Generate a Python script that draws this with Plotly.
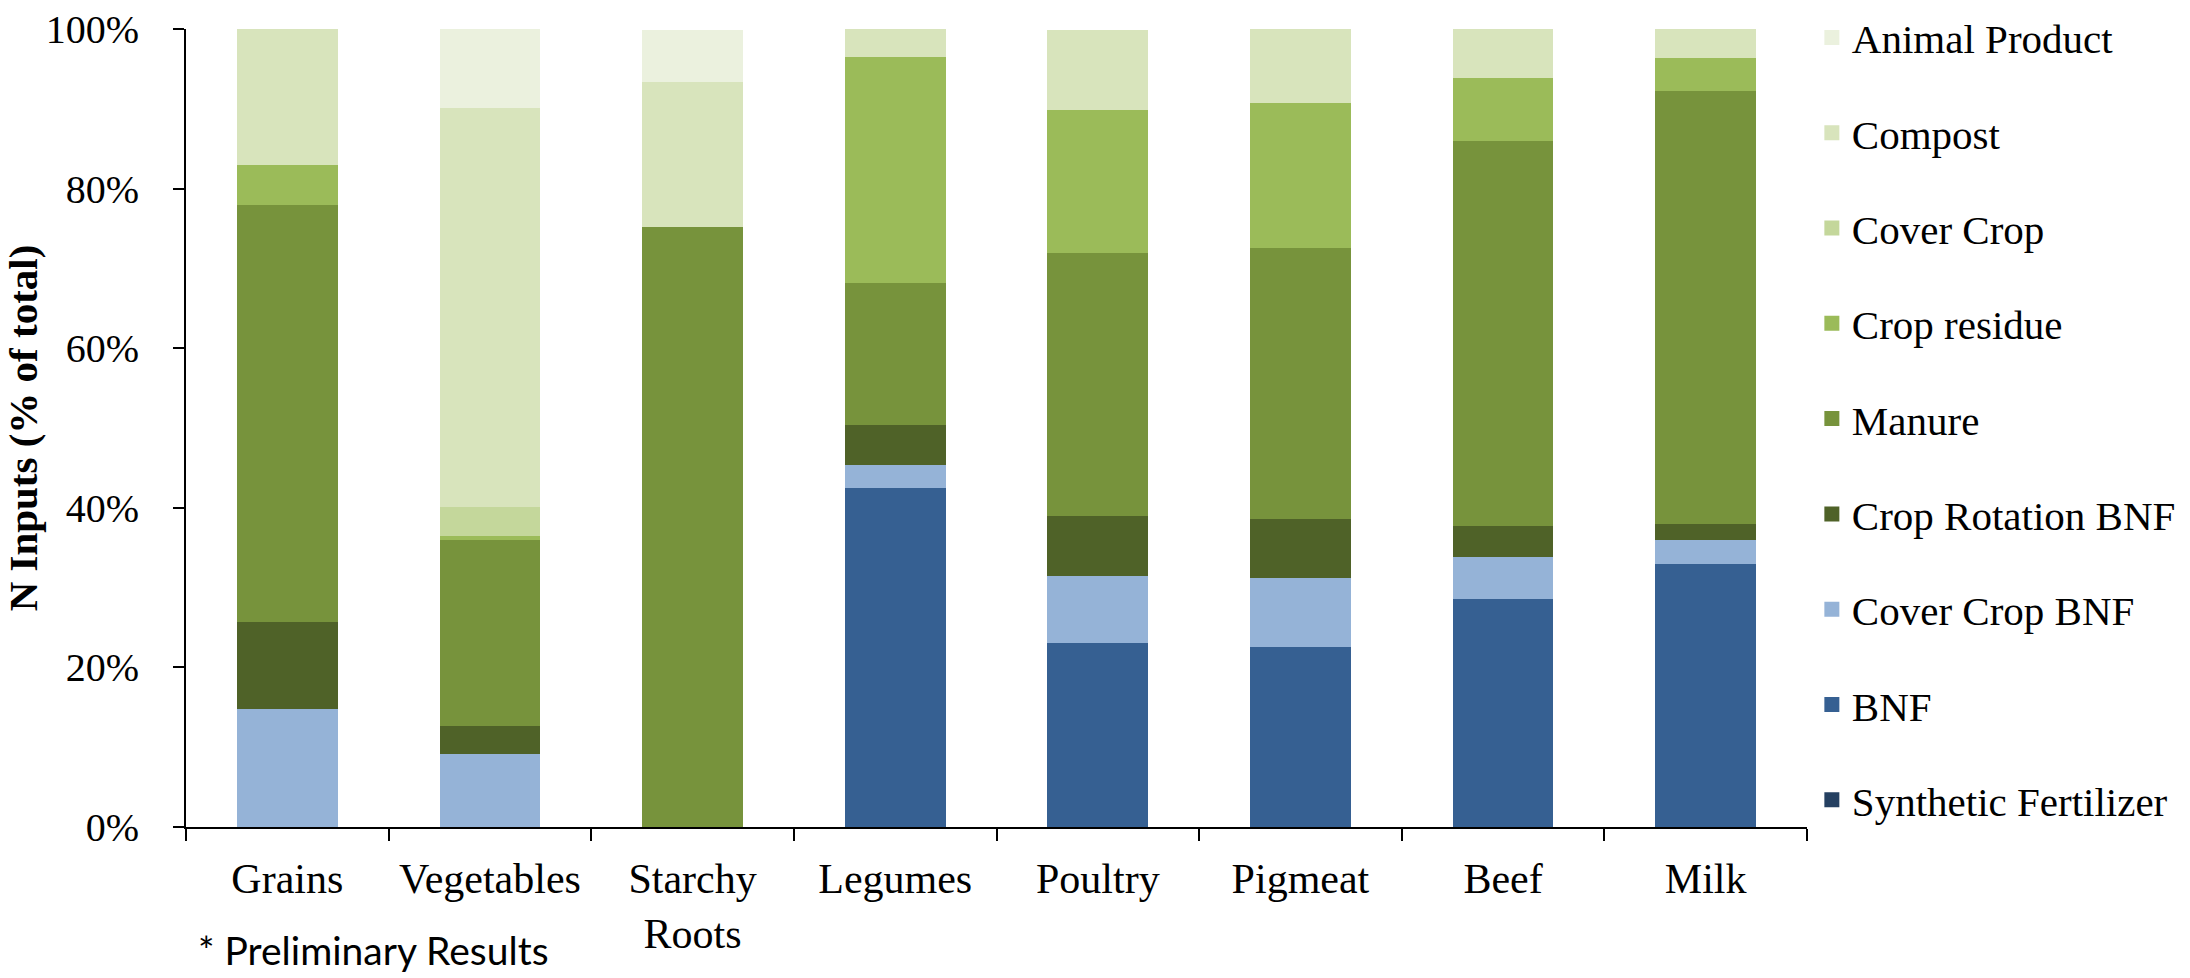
import plotly.graph_objects as go

# Commodity groups along the x axis
categories = ["Grains", "Vegetables", "Starchy<br>Roots", "Legumes",
              "Poultry", "Pigmeat", "Beef", "Milk"]

# Share of nitrogen inputs by source (% of total), bottom of stack first
synthetic_fertilizer = [0, 0, 0, 0, 0, 0, 0, 0]
bnf = [0, 0, 0, 42.7, 23.2, 22.8, 28.7, 33.2]
cover_crop_bnf = [15.0, 9.3, 0, 2.9, 8.5, 8.6, 5.3, 2.9]
crop_rotation_bnf = [10.9, 3.5, 0, 5.0, 7.4, 7.4, 3.9, 2.1]
manure = [52.2, 23.3, 75.4, 17.7, 33.0, 34.0, 48.3, 54.2]
crop_residue = [5.1, 0.5, 0, 28.4, 17.9, 18.1, 7.9, 4.1]
cover_crop = [0, 3.7, 0, 0, 0, 0, 0, 0]
compost = [16.6, 50.0, 18.2, 3.3, 9.7, 9.1, 5.9, 3.5]
animal_product = [0, 9.7, 6.1, 0, 0, 0, 0, 0]

y_ticks = [0, 20, 40, 60, 80, 100]
y_tick_labels = [f"{v}%" for v in y_ticks]

series = [
    ("Synthetic Fertilizer", synthetic_fertilizer, "#254061"),
    ("BNF", bnf, "#366092"),
    ("Cover Crop BNF", cover_crop_bnf, "#95B3D7"),
    ("Crop Rotation BNF", crop_rotation_bnf, "#4F6228"),
    ("Manure", manure, "#77933C"),
    ("Crop residue", crop_residue, "#9BBB59"),
    ("Cover Crop", cover_crop, "#C4D79B"),
    ("Compost", compost, "#D8E4BC"),
    ("Animal Product", animal_product, "#EBF1DE"),
]

SERIF = "Liberation Serif, Times New Roman, serif"

fig = go.Figure()
n = len(series)
for i, (name, vals, color) in enumerate(series):
    # empty segments are left out so their outline is not drawn
    shown = [v if v else None for v in vals]
    fig.add_trace(go.Bar(
        x=categories, y=shown, name=name, legendgroup=name,
        legendrank=n - i,  # top of the stack listed first
        showlegend=True,
        marker=dict(color=color, line=dict(color=color, width=3)),
    ))

W, H = 2190, 978
fig.update_layout(
    width=W, height=H,
    barmode="stack", bargap=0.518,
    plot_bgcolor="white", paper_bgcolor="white",
    margin=dict(l=186, r=383, t=29, b=151, autoexpand=False),
    font=dict(family=SERIF, size=40, color="black"),
    legend=dict(
        traceorder="grouped", tracegroupgap=39, maxheight=978,
        x=1.003, xanchor="left", y=1.031, yanchor="top",
        font=dict(family=SERIF, size=41, color="black"),
        bgcolor="rgba(0,0,0,0)",
    ),
    xaxis=dict(
        showline=True, linecolor="black", linewidth=2,
        ticks="outside", tickson="boundaries", ticklen=12, tickwidth=2,
        tickcolor="black", showgrid=False,
        tickfont=dict(family=SERIF, size=42),
        ticklabelstandoff=14,
    ),
    yaxis=dict(
        range=[0, 100], tickmode="array", tickvals=y_ticks,
        ticktext=y_tick_labels,
        showline=True, linecolor="black", linewidth=2,
        ticks="outside", ticklen=11, tickwidth=2, tickcolor="black",
        showgrid=False, zeroline=False,
        tickfont=dict(family=SERIF, size=40),
        ticklabelstandoff=26,
        title=dict(text="<b>N Inputs (% of total)</b>",
                   font=dict(family=SERIF, size=41), standoff=28),
    ),
    annotations=[dict(
        text="* Preliminary Results", xref="paper", yref="paper",
        x=(196 - 186) / (W - 186 - 383), y=-(950 - 827) / (827 - 29),
        xanchor="left", yanchor="middle", showarrow=False,
        font=dict(family="Lato, Open Sans, sans-serif", size=39, color="black"),
    )],
)

fig.write_html("out.html")
